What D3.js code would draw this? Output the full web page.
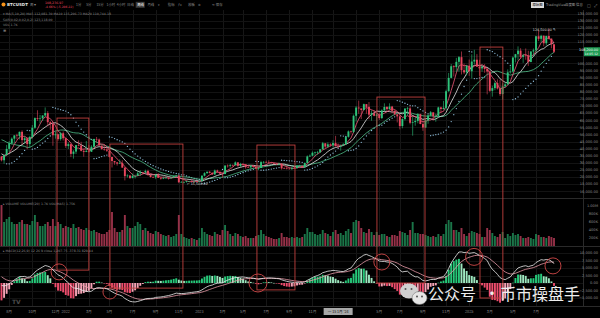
<!DOCTYPE html>
<html><head><meta charset="utf-8">
<script src="https://cdn.jsdelivr.net/npm/d3@7/dist/d3.min.js"></script>
<style>html,body{margin:0;padding:0;background:#000;overflow:hidden}svg{display:block}</style>
</head><body><svg id="chart" width="600" height="318"></svg>
<script>
// ---------------- DATA (weekly BTC/USDT, prices in thousand USDT) ----------------
const firstWeek = "2021-07-12";
// weekly closes before the first drawn candle (history used by indicators only)
const warmupCloses = [11.5,11.4,13.0,13.8,15.5,16.0,18.4,18.2,19.2,19.1,23.8,26.3,32.2,40.1,35.8,32.3,34.3,39.3,47.2,56.0,46.3,49.6,61.0,58.1,55.0,57.1,60.0,56.2,50.1,56.6,58.2,46.4,34.7,35.7,35.8,39.1,35.5,34.7,35.3,34.3];
const closes = [
31.8,35.4,39.8,43.8,47.0,49.3,48.9,51.8,46.0,47.3,
43.2,48.2,54.7,61.5,60.9,61.3,63.3,65.0,58.6,57.3,
49.4,50.1,46.7,50.8,47.3,41.9,43.1,36.3,37.9,42.4,
42.2,38.4,37.7,38.4,37.8,41.3,46.8,46.4,42.2,39.7,
39.4,38.5,34.1,31.3,30.3,29.4,29.9,26.6,20.6,21.0,
19.3,20.8,20.8,22.6,23.3,23.2,24.3,21.5,20.0,19.8,
21.8,19.4,18.8,19.3,19.4,19.1,19.6,20.6,21.0,16.3,
16.3,16.5,17.1,17.1,16.8,16.8,16.6,17.1,20.9,22.7,
23.7,22.9,21.8,24.6,23.6,22.4,22.1,28.0,27.9,28.5,
28.3,30.3,27.8,29.2,28.9,26.9,26.8,28.1,27.2,25.9,
26.3,30.5,30.6,30.3,30.2,29.8,29.3,29.1,29.3,26.1,
26.0,25.9,25.8,26.5,26.3,27.9,27.9,26.9,29.9,34.5,
35.0,37.1,37.4,37.5,39.5,43.8,41.4,43.0,42.3,43.9,
41.7,41.6,42.0,43.0,48.3,52.1,51.7,63.1,68.9,68.3,
67.2,71.3,69.4,63.9,64.9,63.1,64.0,61.5,66.9,69.3,
67.8,69.6,66.6,64.2,62.7,55.9,60.8,68.2,68.3,58.2,
58.7,59.5,64.2,57.3,54.8,59.9,63.3,65.6,62.8,63.0,
69.0,67.9,68.7,80.4,89.8,98.0,97.4,101.1,104.4,95.2,
93.7,98.4,94.5,101.3,102.6,97.7,96.5,97.5,96.1,94.3,
80.7,82.6,86.1,82.3,78.4,83.8,85.2,93.7,94.3,104.1,
106.5,109.0,104.6,105.7,105.6,101.0,108.4,109.2,119.1,117.3,
119.4,114.2,119.3,117.4,113.5,108.2];
const highs = [
34.6,35.4,42.6,45.3,47.9,49.4,50.5,52.0,52.9,48.8,
47.4,49.0,56.6,62.0,67.0,63.7,63.6,69.0,66.4,59.3,
59.0,51.9,50.5,51.8,52.1,47.6,44.4,43.5,38.9,42.6,
45.8,44.8,39.8,45.4,42.6,42.4,46.9,48.2,47.1,41.6,
42.9,40.8,40.0,34.2,31.2,30.6,32.4,31.8,26.8,21.9,
21.5,22.5,21.6,24.3,24.7,23.6,25.2,25.2,21.8,20.6,
21.9,22.7,19.9,20.4,20.5,19.9,19.7,21.0,21.5,21.5,
17.2,16.8,17.4,17.4,18.4,16.9,16.9,17.2,21.2,23.4,
23.8,24.3,23.4,25.3,25.2,23.9,22.6,28.4,28.9,29.2,
28.8,31.0,30.5,30.0,29.8,28.5,27.6,28.2,28.4,27.3,
26.9,31.4,31.3,31.5,31.8,30.4,29.9,29.9,30.2,29.7,
26.8,28.1,26.4,27.0,27.5,28.1,28.6,27.9,30.2,35.2,
35.9,38.0,37.9,38.4,39.8,44.7,43.4,44.4,43.8,45.9,
49.0,43.6,42.8,43.9,48.5,52.8,52.6,64.0,70.0,73.8,
68.1,71.7,71.3,72.8,66.9,67.2,64.7,65.5,67.7,71.9,
70.0,71.9,70.1,66.9,62.9,63.8,61.4,68.4,69.4,70.1,
62.7,61.8,65.0,64.5,59.8,60.7,64.1,66.5,65.0,64.5,
69.5,69.5,73.6,81.5,93.3,99.6,98.7,103.9,105.2,108.4,
99.9,98.8,102.7,106.4,109.6,106.5,102.5,98.8,99.5,96.5,
95.0,84.3,87.4,88.8,88.5,86.1,86.5,95.8,97.9,104.9,
106.7,112.0,110.7,106.8,110.5,108.9,108.5,110.5,119.5,123.2,
120.2,119.8,119.5,124.5,117.6,113.0];
const lows = [
31.0,29.3,35.2,37.7,42.8,43.9,46.4,46.5,42.8,43.4,
39.6,40.8,47.1,53.9,59.5,57.8,59.5,62.3,55.6,53.3,
42.0,47.0,45.5,45.6,45.7,40.5,39.7,34.0,32.9,36.2,
41.7,38.0,34.3,37.5,37.1,37.6,40.5,44.2,42.1,39.2,
38.5,37.6,33.7,26.7,28.6,28.0,29.3,26.5,17.6,19.6,
18.6,19.0,18.9,20.8,20.7,22.4,22.7,20.8,19.6,19.5,
18.5,19.3,18.1,18.5,19.2,18.2,18.9,19.2,20.1,15.6,
16.2,15.5,16.0,16.9,16.6,16.6,16.5,16.5,17.0,20.4,
22.3,22.5,21.4,21.5,23.1,21.9,19.5,21.9,26.6,26.5,
27.2,28.2,27.2,27.0,27.7,25.8,26.3,26.1,26.5,25.4,
24.8,26.3,29.5,29.7,29.9,29.5,29.0,28.6,28.8,25.2,
25.8,25.4,25.4,24.9,26.0,26.0,27.2,26.6,26.8,29.9,
34.1,34.5,34.8,35.6,36.9,39.5,40.2,40.5,41.3,40.8,
41.5,40.3,38.5,41.8,42.5,47.7,50.5,50.9,59.0,64.5,
60.8,66.9,64.5,60.7,59.6,62.8,56.5,60.2,60.8,66.6,
66.6,67.5,65.1,63.4,58.4,53.5,54.3,59.8,63.4,57.1,
49.1,56.1,57.8,57.2,52.5,54.6,57.5,62.6,59.8,58.9,
62.0,65.1,67.5,66.8,80.0,89.4,90.8,94.0,94.2,92.2,
92.5,91.5,91.2,89.3,99.5,97.6,91.2,94.1,93.4,78.2,
80.0,76.6,81.1,81.6,77.1,74.5,83.1,85.1,92.8,93.4,
100.7,102.1,103.1,100.4,102.6,98.2,100.8,105.1,107.5,115.7,
114.7,112.0,112.6,116.8,110.6,107.3];
// weekly volume, thousand BTC
const volumes = [
1025,600,675,725,600,550,550,600,650,550,
550,525,625,775,600,500,500,550,600,500,
675,500,600,550,450,500,475,450,550,450,
475,425,400,450,400,375,400,350,325,300,
300,350,400,850,450,350,350,400,775,500,
450,450,500,600,550,400,450,375,325,300,
375,350,300,275,250,275,225,250,300,775,
300,225,200,175,200,175,150,200,450,350,
300,275,250,350,300,275,400,525,375,300,
250,325,300,250,225,250,200,200,200,250,
275,400,300,250,225,200,175,175,200,325,
225,225,200,225,200,225,200,225,300,450,
350,350,300,275,300,400,325,300,250,350,
400,300,325,275,375,425,325,600,650,625,
450,350,325,425,350,275,350,275,300,300,
250,225,275,275,250,375,350,325,275,400,
600,325,325,300,300,275,250,225,250,225,
300,250,300,550,650,600,400,400,350,450,
300,250,325,375,350,325,300,225,225,450,
400,325,250,225,300,350,200,300,250,325,
275,300,250,200,200,225,200,175,300,275,
225,225,200,250,225,200];
const priceTicks = [135,130,125,120,115,110,105,100,95,90,85,80,75,70,65,60,55,50,45,40,35,30,25,20,15,10];
const volumeTicks = [200,400,600,800,1000];
const macdTicks = [-5,-2.5,0,2.5,5,7.5,10];
const timeLabels = [
 ["2021-08-02","8月"],["2021-10-04","10月"],["2021-12-06","12月"],["2022-01-03","2022"],["2022-03-07","3月"],["2022-05-02","5月"],
 ["2022-07-04","7月"],["2022-09-05","9月"],["2022-11-07","11月"],["2023-01-02","2023"],["2023-03-06","3月"],["2023-05-01","5月"],
 ["2023-07-03","7月"],["2023-09-04","9月"],["2023-11-06","11月"],["2024-01-01","2024"],["2024-03-04","3月"],["2024-05-06","5月"],
 ["2024-07-01","7月"],["2024-09-02","9月"],["2024-11-04","11月"],["2025-01-06","2025"],["2025-03-03","3月"],["2025-05-05","5月"],["2025-07-07","7月"]];
const crosshairWeek = 131, crosshairText = "一 15 1月 '24";
// annotation boxes: [first week, last week, top price, bottom MACD value]
const boxes = [[21.6,34.0,61.5,4.3],[42.2,70.6,43.2,-1.7],[99.4,114.2,42.5,-2.3],[146.1,164.8,76.3,0],[186.2,195.1,111.5,-5.0]];
// annotation circles on MACD: [week, MACD value, radius]
const circles = [[22.4,3.7,8],[42.2,-3.0,7],[99.8,0,9],[148,7.0,8],[183.9,8.7,8.5],[214.6,5.7,8]];

// ---------------- LAYOUT ----------------
const svg = d3.select("#chart");
const W = 600, H = 318, plotR = 583;
const mainTop = 10, mainBot = 198, volTop = 199, volBot = 246, macdTop = 247, macdBot = 306;
const FONT = "'DejaVu Sans','Noto Sans CJK SC',sans-serif";
const CJK = "'Noto Sans CJK SC','Noto Sans',sans-serif";
const UP = "#2ec27a", DN = "#e8465e";

svg.append("rect").attr("width", W).attr("height", H).attr("fill", "#000");

const N = closes.length;
const opens = closes.map((c, i) => i === 0 ? warmupCloses[warmupCloses.length - 1] : closes[i - 1]);
const all = warmupCloses.concat(closes);
const off = warmupCloses.length;

const x = d3.scaleLinear().domain([0, 215]).range([1.5, 554]);
const y = d3.scaleLinear().domain([10, 120]).range([191.2, 35]);
const yv = d3.scaleLinear().domain([0, 1150]).range([volBot, 200]);
const ym = d3.scaleLinear().domain([-5, 10]).range([298, 253]);
const weekOf = s => (Date.parse(s + "T00:00:00Z") - Date.parse(firstWeek + "T00:00:00Z")) / (7 * 864e5);

// grid
const g = svg.append("g");
timeLabels.forEach(([d]) => {
  const xx = Math.round(x(weekOf(d))) + 0.5;
  g.append("line").attr("x1", xx).attr("x2", xx).attr("y1", mainTop).attr("y2", macdBot).attr("stroke", "#161616");
});
priceTicks.forEach(v => {
  const yy = Math.round(y(v)) + 0.5;
  if (yy > mainTop + 2 && yy < mainBot) g.append("line").attr("x1", 0).attr("x2", plotR).attr("y1", yy).attr("y2", yy).attr("stroke", "#131313");
});
macdTicks.forEach(v => {
  const yy = Math.round(ym(v)) + 0.5;
  g.append("line").attr("x1", 0).attr("x2", plotR).attr("y1", yy).attr("y2", yy).attr("stroke", "#131313");
});
[volTop - 0.5, volBot + 0.5].forEach(yy => g.append("line").attr("x1", 0).attr("x2", W).attr("y1", yy).attr("y2", yy).attr("stroke", "#2a2a2a"));
g.append("line").attr("x1", plotR + 0.5).attr("x2", plotR + 0.5).attr("y1", 10).attr("y2", macdBot).attr("stroke", "#2a2a2a");
g.append("line").attr("x1", 0).attr("x2", W).attr("y1", macdBot + 0.5).attr("y2", macdBot + 0.5).attr("stroke", "#2a2a2a");

// ---------------- indicators ----------------
function sma(n) { return closes.map((c, i) => { const j = i + off; if (j < n - 1) return null; return d3.mean(all.slice(j - n + 1, j + 1)); }); }
function emaAll(arr, n) { const k = 2 / (n + 1); const out = []; arr.forEach((v, i) => out.push(i === 0 ? v : v * k + out[i - 1] * (1 - k))); return out; }
const e12 = emaAll(all, 12), e26 = emaAll(all, 26);
const difAll = e12.map((v, i) => v - e26[i]);
const deaAll = emaAll(difAll, 9);
const dif = closes.map((c, i) => difAll[i + off]);
const dea = closes.map((c, i) => deaAll[i + off]);
const hist = closes.map((c, i) => 2 * (dif[i] - dea[i]));
// Parabolic SAR (0.02, 0.02, 0.2)
function psar(h, l, st = 0.02, inc = 0.02, mx = 0.2) {
  const out = [null]; let up = closes[1] > closes[0], af = st, ep = up ? h[0] : l[0], sar = up ? l[0] : h[0];
  for (let i = 1; i < h.length; i++) {
    let s = sar + af * (ep - sar);
    if (up) {
      s = Math.min(s, l[i - 1], i > 1 ? l[i - 2] : l[i - 1]);
      if (l[i] < s) { up = false; s = ep; ep = l[i]; af = st; }
      else if (h[i] > ep) { ep = h[i]; af = Math.min(af + inc, mx); }
    } else {
      s = Math.max(s, h[i - 1], i > 1 ? h[i - 2] : h[i - 1]);
      if (h[i] > s) { up = true; s = ep; ep = h[i]; af = st; }
      else if (l[i] < ep) { ep = l[i]; af = Math.min(af + inc, mx); }
    }
    sar = s; out.push(s);
  }
  return out;
}
const sar = psar(highs, lows);

const lineGen = yScale => d3.line().defined(d => d != null).x((d, i) => x(i)).y(d => yScale(d));
const mains = svg.append("g");
svg.append("clipPath").attr("id", "mainclip").append("rect").attr("x", 0).attr("y", mainTop).attr("width", plotR).attr("height", mainBot - mainTop);
mains.attr("clip-path", "url(#mainclip)");

// SAR dots
sar.forEach((s, i) => { if (s != null) mains.append("circle").attr("cx", x(i)).attr("cy", y(s)).attr("r", 0.65).attr("fill", "#8fc0de"); });
[[sma(20), "#4fbf8a", 0.8], [sma(10), "#e6e6e6", 0.8], [sma(5), "#f0587a", 0.8]].forEach(([d, c, w]) =>
  mains.append("path").datum(d).attr("d", lineGen(y)).attr("fill", "none").attr("stroke", c).attr("stroke-width", w));

// candles
const cg = mains.append("g");
closes.forEach((c, i) => {
  const o = opens[i], col = c >= o ? UP : DN, xx = x(i);
  cg.append("line").attr("x1", xx).attr("x2", xx).attr("y1", y(highs[i])).attr("y2", y(lows[i])).attr("stroke", col).attr("stroke-width", 0.6);
  const t = y(Math.max(o, c)), b = y(Math.min(o, c));
  cg.append("rect").attr("x", xx - 0.95).attr("y", t).attr("width", 1.9).attr("height", Math.max(0.6, b - t)).attr("fill", col);
});

// volume
const vg = svg.append("g");
volumes.forEach((v, i) => {
  const col = closes[i] >= opens[i] ? "#1f8a55" : "#b03a55";
  vg.append("rect").attr("x", x(i) - 0.95).attr("y", yv(v)).attr("width", 1.9).attr("height", volBot - yv(v)).attr("fill", col).attr("opacity", 0.85);
});

// MACD
const mg = svg.append("g");
hist.forEach((h, i) => {
  const prev = i > 0 ? hist[i - 1] : h;
  let col;
  if (h >= 0) col = h >= prev ? "#27c97a" : "#9ee8c0"; else col = h <= prev ? "#ee4d6d" : "#f5a3b5";
  const y0 = ym(0), y1 = ym(h);
  mg.append("rect").attr("x", x(i) - 0.95).attr("y", Math.min(y0, y1)).attr("width", 1.9).attr("height", Math.max(0.5, Math.abs(y1 - y0))).attr("fill", col);
});
mg.append("path").datum(dea).attr("d", lineGen(ym)).attr("fill", "none").attr("stroke", "#e89aa8").attr("stroke-width", 0.8);
mg.append("path").datum(dif).attr("d", lineGen(ym)).attr("fill", "none").attr("stroke", "#eeeeee").attr("stroke-width", 0.8);

// annotation boxes & circles
const ag = svg.append("g");
boxes.forEach(([a, b, top, bot]) => {
  ag.append("rect").attr("x", x(a)).attr("y", y(top)).attr("width", x(b) - x(a)).attr("height", ym(bot) - y(top))
    .attr("fill", "none").attr("stroke", "#c0403e").attr("stroke-width", 0.9);
});
circles.forEach(([w, v, r]) => ag.append("circle").attr("cx", x(w)).attr("cy", ym(v)).attr("r", r).attr("fill", "none").attr("stroke", "#d04848").attr("stroke-width", 0.9));

// ---------------- axes text ----------------
const tx = (xx, yy, s, opt = {}) => svg.append("text").attr("x", xx).attr("y", yy).text(s)
  .attr("font-family", opt.cjk ? CJK : FONT).attr("font-size", opt.size || 3.6).attr("fill", opt.fill || "#8a8a8a")
  .attr("text-anchor", opt.anchor || "start").attr("font-weight", opt.weight || 400);
const fmt = d3.format(",.2f");
const last = closes[N - 1];
priceTicks.forEach(v => { const yy = y(v); if (yy > 11 && yy < mainBot - 2 && Math.abs(yy - y(last)) > 6.5) tx(598, yy + 1.3, fmt(v * 1000), { anchor: "end" }); });
volumeTicks.forEach(v => tx(598, yv(v) + 1.3, v >= 1000 ? (v / 1000).toFixed(2) + "M" : v + "K", { anchor: "end" }));
macdTicks.forEach(v => tx(598, ym(v) + 1.3, v === 0 ? "0.00" : fmt(v * 1000), { anchor: "end" }));
const chX = x(crosshairWeek);
timeLabels.forEach(([d, t]) => { const xx = x(weekOf(d)); if (Math.abs(xx - chX) > 20) tx(xx, 313, t, { anchor: "middle", cjk: true, size: 3.8 }); });

// current price label
svg.append("rect").attr("x", 584).attr("y", y(last) - 4.5).attr("width", 16).attr("height", 9).attr("fill", "#1f9d55");
tx(598, y(last) - 0.6, fmt(last * 1000), { anchor: "end", fill: "#fff", size: 3.3 });
tx(598, y(last) + 3.4, "1d 05:12", { anchor: "end", fill: "#fff", size: 3.0 });
// highest / lowest markers
const hi = d3.maxIndex(highs), lo = d3.minIndex(lows);
tx(x(hi) - 16, y(highs[hi]) + 2, fmt(highs[hi] * 1000) + " →", { fill: "#dddddd", size: 3.3 });
tx(x(lo) + 3, y(lows[lo]) + 2, "← " + fmt(lows[lo] * 1000), { fill: "#dddddd", size: 3.3 });

// crosshair time label
svg.append("rect").attr("x", chX - 14.5).attr("y", 308).attr("width", 29).attr("height", 7).attr("fill", "#a8a8a8");
tx(chX, 313.2, crosshairText, { anchor: "middle", fill: "#111", size: 3.6, cjk: true });

// ---------------- header / legends ----------------
svg.append("circle").attr("cx", 3.5).attr("cy", 4.5).attr("r", 2).attr("fill", "#f7931a");
tx(7, 6, "BTCUSDT", { fill: "#e8e8e8", size: 4, weight: 700 });
tx(30, 6, "周 ▾", { cjk: true, size: 3.5 });
tx(45, 4.3, "108,236.97", { fill: DN, size: 3.2 });
tx(45, 8.3, "-4.66% (-5,286.22)", { fill: DN, size: 3.0 });
const tb = ["1分", "5分", "15分", "1小时", "4小时", "日线", "周线", "月线", "▾", "指标", "ƒx", "模板", "⚙"];
tb.forEach((t, i) => {
  const xx = 76 + i * 10.2;
  if (t === "周线") svg.append("rect").attr("x", xx - 1.5).attr("y", 1.8).attr("width", 9).attr("height", 6).attr("fill", "#3a3a3a");
  tx(xx, 6, t, { cjk: true, size: 3.4, fill: t === "周线" ? "#ffffff" : "#8c8c8c" });
});
tx(212, 6, "⟲ 保存", { cjk: true, size: 3.4 });
svg.append("rect").attr("x", 531).attr("y", 2).attr("width", 13).attr("height", 6).attr("fill", "#d9d9d9");
tx(537.5, 6.3, "原始图", { cjk: true, size: 3.4, fill: "#111", anchor: "middle" });
tx(546, 6.3, "TradingView", { size: 3.3, fill: "#9a9a9a" });
tx(565, 6.3, "深度图", { cjk: true, size: 3.4, fill: "#9a9a9a" });
tx(576, 6.3, "信息", { cjk: true, size: 3.4, fill: "#9a9a9a" });
tx(587, 6.5, "□", { size: 4 }); tx(594, 6.5, "⤢", { size: 4 });

tx(3, 15, "▾ MA(5,10,20)  MA5 112,081.30  MA10 115,206.73  MA20 110,744.18", { size: 3.2 });
tx(3, 20.5, "SAR(0.02,0.02,0.2)  123,118.00", { size: 3.2 });
tx(3, 26, "VOL  1.7K", { size: 3.2 });
tx(3, 31.5, "≡", { size: 4 });
tx(3, 204.5, "▸ VOLUME  VOLUME(20)  1.7K  VOL(MA5)  1.75K", { size: 3.2 });
tx(3, 252, "▸ MACD(12,26,9)  12  26  9  close  1,207.75  -378.31  829.44", { size: 3.2 });
tx(12, 304, "TV", { size: 6, weight: 700, fill: "#4a4a4a" });

// ---------------- watermark ----------------
const wm = svg.append("g");
wm.append("ellipse").attr("cx", 409).attr("cy", 291).attr("rx", 9).attr("ry", 7.5).attr("fill", "#d0d0d0");
wm.append("ellipse").attr("cx", 419.5).attr("cy", 298).attr("rx", 7.5).attr("ry", 6.5).attr("fill", "#e6e6e6").attr("stroke", "#777").attr("stroke-width", 0.6);
[[405.5, 289], [411.5, 289], [417, 296.5], [422, 296.5]].forEach(([cx, cy]) => wm.append("circle").attr("cx", cx).attr("cy", cy).attr("r", 1).attr("fill", "#555"));
tx(428, 300, "公众号", { cjk: true, size: 16, fill: "#eeeeee" });
tx(484, 299, "·", { cjk: true, size: 16, fill: "#eeeeee" });
tx(500, 300, "币市操盘手", { cjk: true, size: 16, fill: "#eeeeee" });
</script></body></html>
